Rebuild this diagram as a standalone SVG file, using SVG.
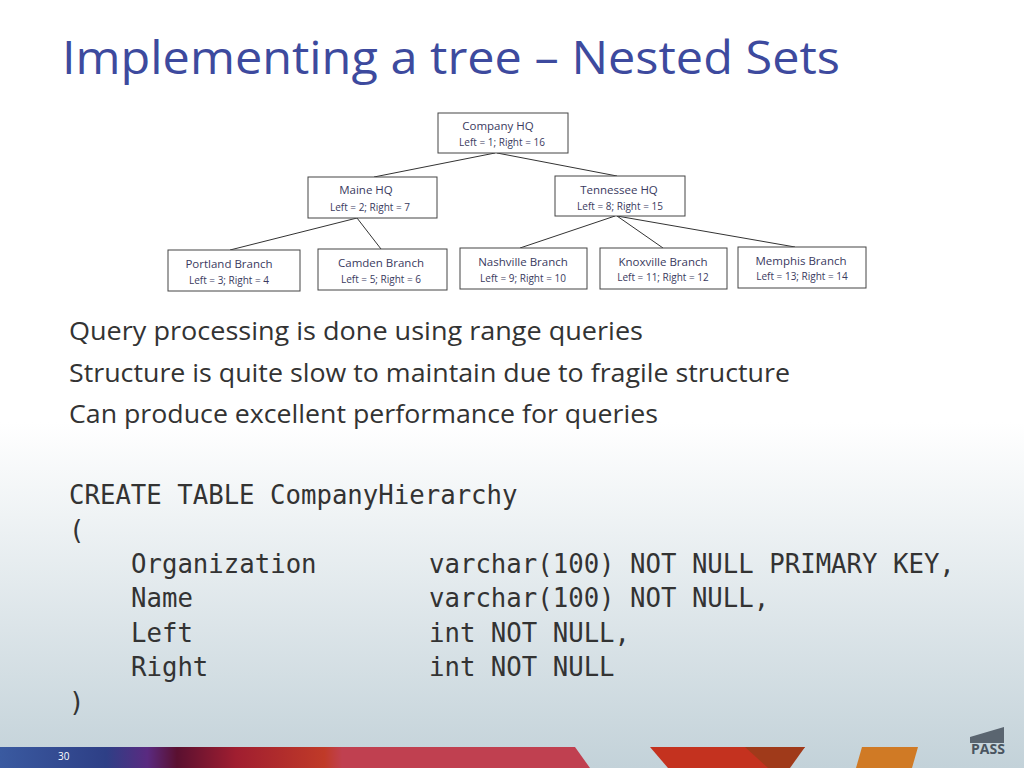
<svg xmlns="http://www.w3.org/2000/svg" width="1024" height="768" viewBox="0 0 1024 768">
<defs>
<linearGradient id="bg" x1="0" y1="0" x2="0" y2="1">
<stop offset="0" stop-color="#ffffff"/><stop offset="0.55" stop-color="#ffffff"/><stop offset="1" stop-color="#c3d2d9"/>
</linearGradient>
<linearGradient id="band" x1="0" y1="0" x2="1" y2="0">
<stop offset="0" stop-color="#3a5aa0"/><stop offset="0.18" stop-color="#2e3f86"/><stop offset="0.25" stop-color="#5a2a80"/><stop offset="0.3" stop-color="#5a1030"/><stop offset="0.4" stop-color="#a01e30"/><stop offset="0.55" stop-color="#c03a28"/><stop offset="0.58" stop-color="#c04050"/>
</linearGradient>
<style>
.b{fill:#fff;stroke:#444;stroke-width:1}
.t{font-family:"Open Sans","DejaVu Sans",sans-serif;fill:#3a3a60;text-anchor:middle}
.n{font-size:11.5px}.s{font-size:10px}
.body{font-family:"Open Sans","Noto Sans",sans-serif;font-size:25px;fill:#333}
.code{font-family:"DejaVu Sans Mono","Liberation Mono",monospace;font-size:25.7px;fill:#333;white-space:pre}
</style>
</defs>
<rect width="1024" height="768" fill="url(#bg)"/>
<text x="62" y="74" font-family="'Segoe UI','Open Sans',sans-serif" font-size="46" fill="#3d4a9e" textLength="778" lengthAdjust="spacingAndGlyphs">Implementing a tree – Nested Sets</text>
<g id="connectors" stroke="#333" stroke-width="1">
<line x1="495" y1="153" x2="374" y2="177"/><line x1="497" y1="153" x2="617" y2="176"/>
<line x1="357" y1="218" x2="230" y2="250"/><line x1="357" y1="218" x2="381" y2="249"/>
<line x1="615" y1="216" x2="520" y2="248"/><line x1="617" y1="216" x2="663" y2="248"/><line x1="617" y1="216" x2="795" y2="247"/>
</g>
<g id="company"><rect class="b" x="438" y="113" width="130" height="40"/><text class="t n" x="498" y="130">Company HQ</text><text class="t s" x="502" y="146">Left = 1; Right = 16</text></g>
<g id="maine"><rect class="b" x="308" y="177" width="129" height="41"/><text class="t n" x="366" y="194">Maine HQ</text><text class="t s" x="370" y="211">Left = 2; Right = 7</text></g>
<g id="tennessee"><rect class="b" x="555" y="176" width="130" height="40"/><text class="t n" x="619" y="194">Tennessee HQ</text><text class="t s" x="620" y="210">Left = 8; Right = 15</text></g>
<g id="portland"><rect class="b" x="168" y="250" width="132" height="41"/><text class="t n" x="229" y="268">Portland Branch</text><text class="t s" x="229" y="284">Left = 3; Right = 4</text></g>
<g id="camden"><rect class="b" x="318" y="249" width="129" height="41"/><text class="t n" x="381" y="267">Camden Branch</text><text class="t s" x="381" y="283">Left = 5; Right = 6</text></g>
<g id="nashville"><rect class="b" x="460" y="248" width="127" height="41"/><text class="t n" x="523" y="266">Nashville Branch</text><text class="t s" x="523" y="282">Left = 9; Right = 10</text></g>
<g id="knoxville"><rect class="b" x="600" y="248" width="127" height="41"/><text class="t n" x="663" y="266">Knoxville Branch</text><text class="t s" x="663" y="281">Left = 11; Right = 12</text></g>
<g id="memphis"><rect class="b" x="738" y="247" width="128" height="41"/><text class="t n" x="801" y="265">Memphis Branch</text><text class="t s" x="802" y="280">Left = 13; Right = 14</text></g>
<text class="body" x="69" y="340" textLength="574" lengthAdjust="spacingAndGlyphs">Query processing is done using range queries</text>
<text class="body" x="69" y="382" textLength="721" lengthAdjust="spacingAndGlyphs">Structure is quite slow to maintain due to fragile structure</text>
<text class="body" x="69" y="423" textLength="589" lengthAdjust="spacingAndGlyphs">Can produce excellent performance for queries</text>
<text class="code" x="69" y="504">CREATE TABLE CompanyHierarchy</text>
<text class="code" x="69" y="539">(</text>
<text class="code" x="131" y="573">Organization</text><text class="code" x="429" y="573">varchar(100) NOT NULL PRIMARY KEY,</text>
<text class="code" x="131" y="607">Name</text><text class="code" x="429" y="607">varchar(100) NOT NULL,</text>
<text class="code" x="131" y="642">Left</text><text class="code" x="429" y="642">int NOT NULL,</text>
<text class="code" x="131" y="676">Right</text><text class="code" x="429" y="676">int NOT NULL</text>
<text class="code" x="69" y="711">)</text>
<polygon points="0,747 575,747 590,768 0,768" fill="url(#band)"/>
<polygon points="650,747 805,747 785,768 668,768" fill="#c4321f"/>
<polygon points="745,747 805,747 790,768 768,768" fill="#a03a1a"/>
<polygon points="862,747 918,747 912,768 856,768" fill="#d07a25"/>
<text x="58" y="760" font-family="'Open Sans',sans-serif" font-size="10" fill="#fff">30</text>
<text x="988" y="754" font-family="'Open Sans',sans-serif" font-size="14" font-weight="bold" fill="#4a5560" text-anchor="middle">PASS</text>
<path d="M970,737 L1004,727 L1004,743 L970,743 Z" fill="#5a6570"/>
</svg>
